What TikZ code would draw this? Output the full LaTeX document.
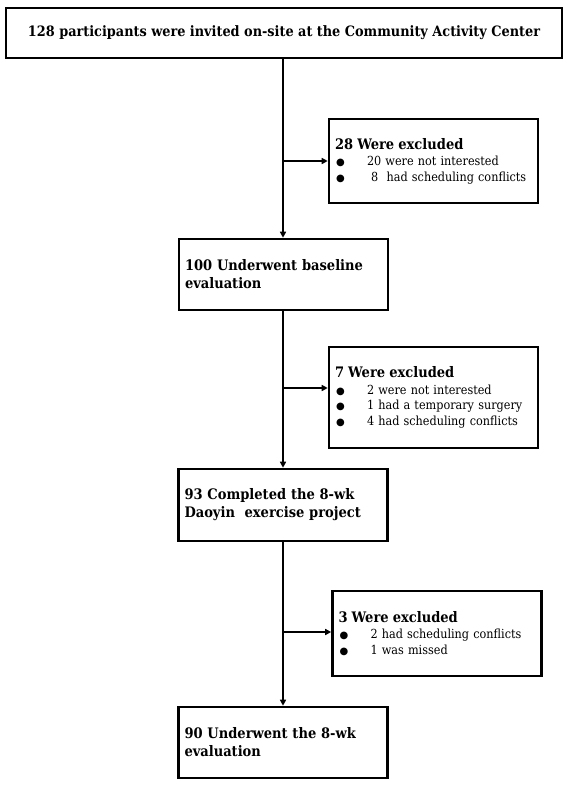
\documentclass[tikz,border=0pt]{standalone}
\usepackage{fontspec}
\setmainfont{DejaVu Serif Condensed}
\newfontfamily\symf{DejaVu Sans}
\usetikzlibrary{arrows.meta}
\begin{document}
\begin{tikzpicture}[x=1pt,y=1pt,
  box/.style={draw,line width=2.6pt,inner xsep=6pt,inner ysep=2pt,anchor=center},
  mainbox/.style={box,align=left,text width=197pt,font=\bfseries\fontsize{14.5}{18}\selectfont},
  exbox/.style={box,align=left,text width=197pt,font=\fontsize{12.5}{15.5}\selectfont},
  arr/.style={line width=1.8pt,-{Triangle[length=6pt,width=6pt]}}]
\useasboundingbox (0,0) rectangle (567,-785);
\fill[white] (0,0) rectangle (567,-785);
\newcommand{\exhead}[1]{{\bfseries\fontsize{14.5}{18}\selectfont #1}\\[1pt]}
\newcommand{\exitem}[1]{\makebox[32pt][l]{\hspace{1pt}{\symf\fontsize{10}{10}\selectfont ●}}#1}

\node[box,align=center,minimum width=556pt,minimum height=50pt,
  font=\bfseries\fontsize{14.3}{18}\selectfont] (top) at (284,-33)
  {128 participants were invited on-site at the Community Activity Center};

\node[mainbox,minimum height=71pt] (b2) at (283.5,-274.5)
  {100 Underwent baseline\\evaluation};
\node[mainbox,minimum height=72pt] (b3) at (283,-505)
  {93 Completed the 8-wk\\Daoyin\ \ exercise project};
\node[mainbox,minimum height=71pt] (b4) at (283,-742.5)
  {90 Underwent the 8-wk\\evaluation};

\node[exbox,minimum height=84pt] (e1) at (433.5,-161)
  {\exhead{28 Were excluded}\exitem{20 were not interested}\\\exitem{\ 8\ \ had scheduling conflicts}};
\node[exbox,minimum height=101pt] (e2) at (433.5,-397.5)
  {\exhead{7 Were excluded}\exitem{2 were not interested}\\\exitem{1 had a temporary surgery}\\\exitem{4 had scheduling conflicts}};
\node[exbox,minimum height=85pt] (e3) at (437,-633.5)
  {\exhead{3 Were excluded}\exitem{2 had scheduling conflicts}\\\exitem{1 was missed}};

\coordinate (j1) at (283,-161);
\coordinate (j2) at (283,-388);
\coordinate (j3) at (283,-632);

\draw[arr] (top.south -| j1) -- (j1 |- b2.north);
\draw[arr] (j1) -- (j1 -| e1.west);
\draw[arr] (b2.south -| j2) -- (j2 |- b3.north);
\draw[arr] (j2) -- (j2 -| e2.west);
\draw[arr] (b3.south -| j3) -- (j3 |- b4.north);
\draw[arr] (j3) -- (j3 -| e3.west);
\end{tikzpicture}
\end{document}
